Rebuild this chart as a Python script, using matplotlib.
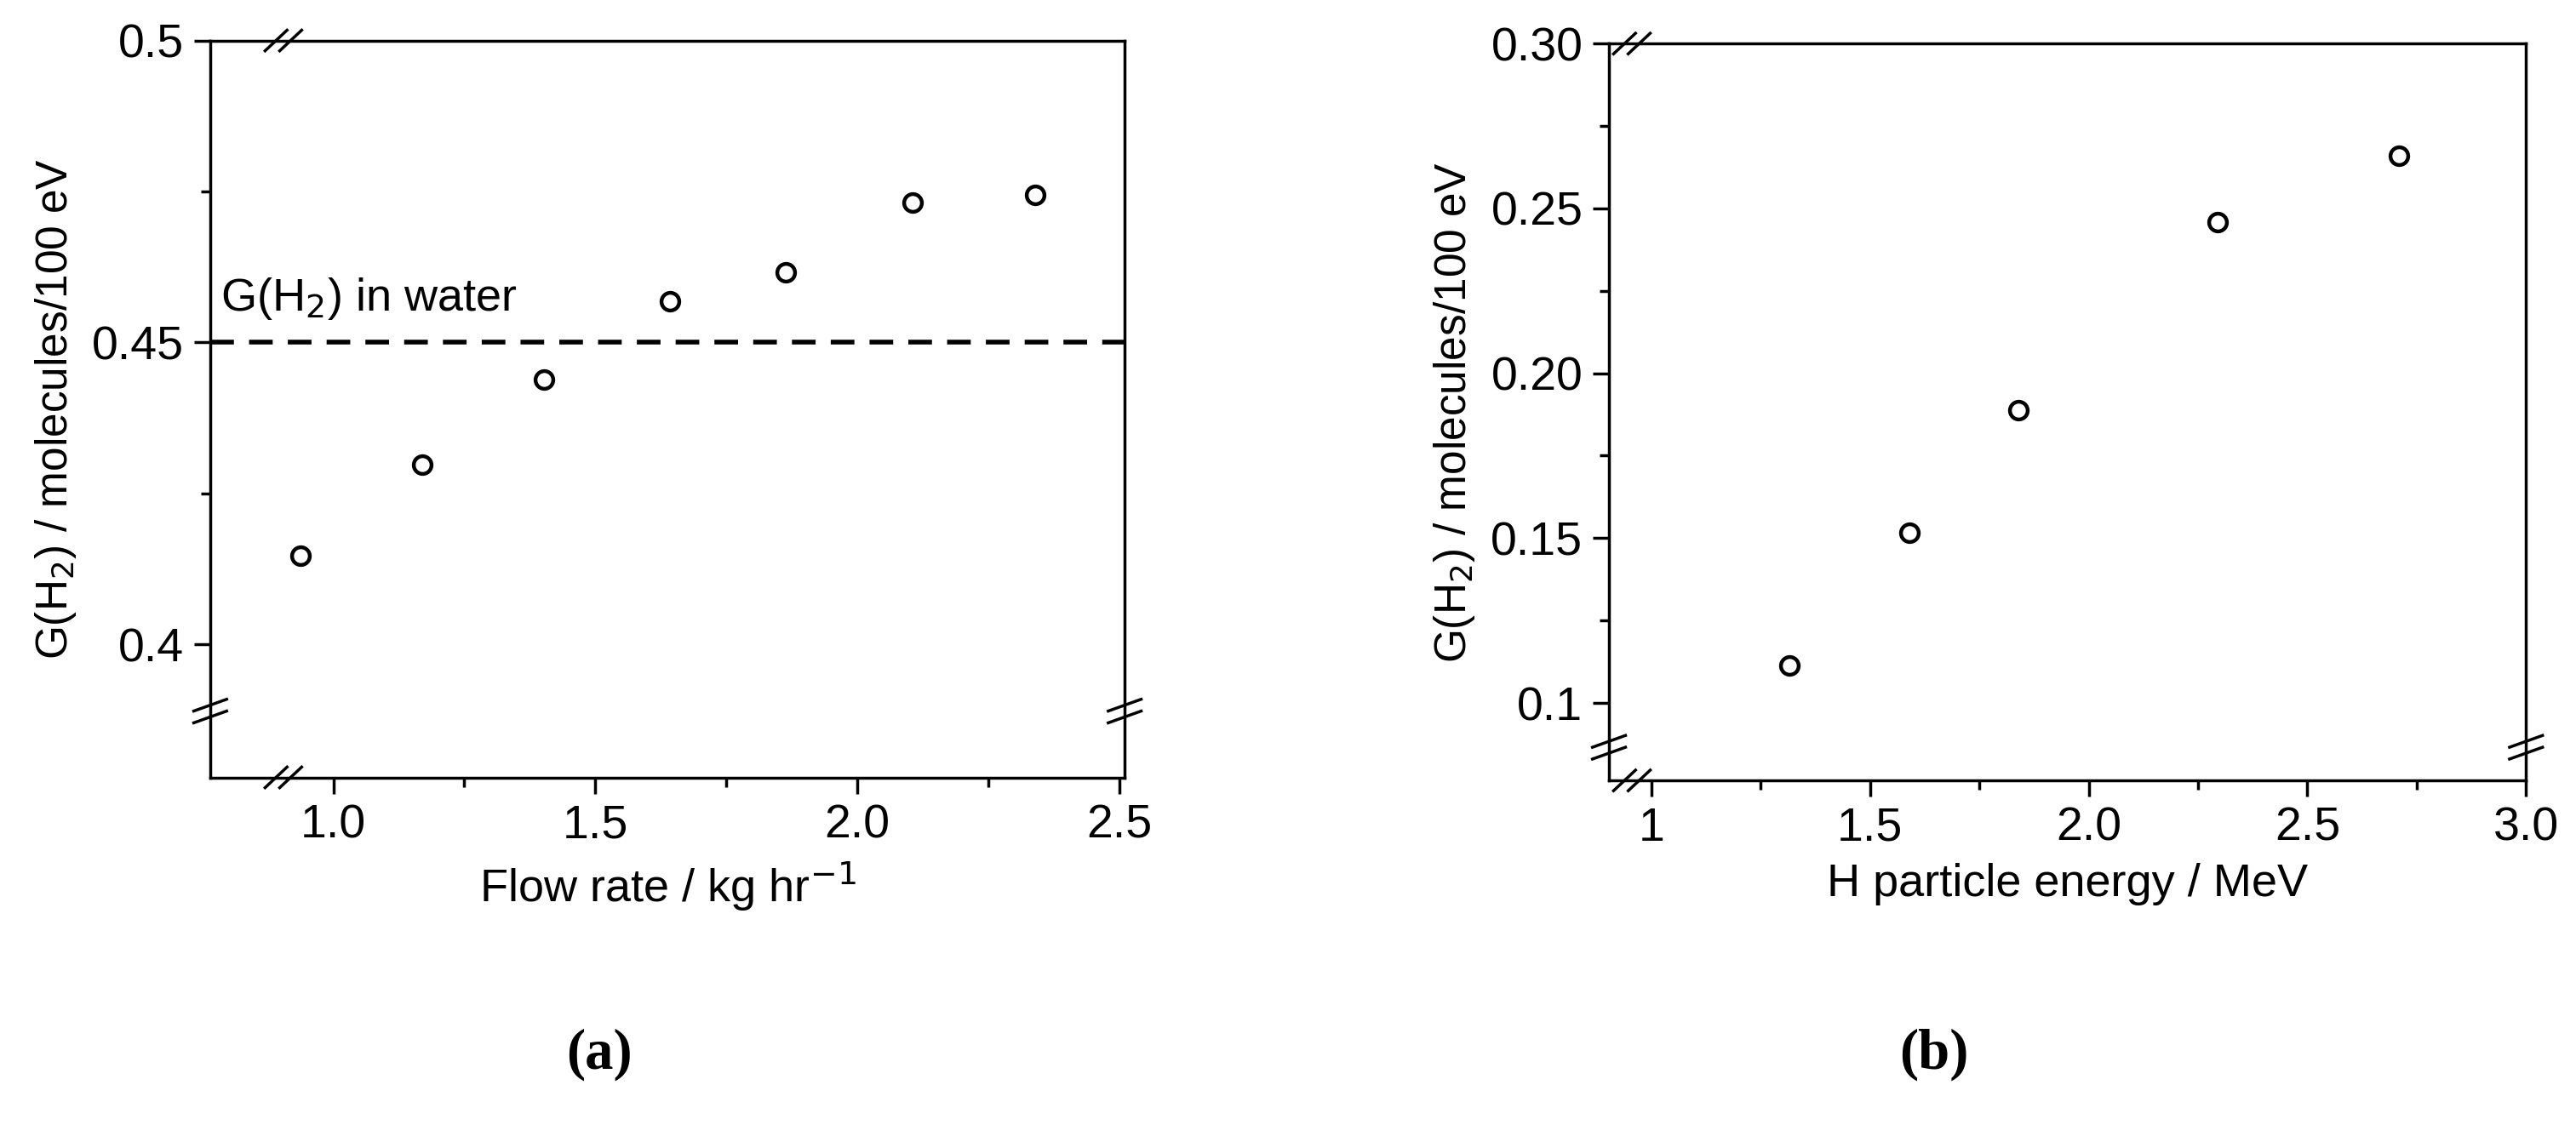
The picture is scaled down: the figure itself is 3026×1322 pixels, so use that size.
import matplotlib.pyplot as plt
from matplotlib.ticker import MultipleLocator

plt.rcParams['font.family'] = ['Liberation Sans', 'DejaVu Sans']

# panel (a): G(H2) vs flow rate
flow_rate = [0.938, 1.170, 1.402, 1.643, 1.864, 2.105, 2.339]
g_flow = [0.4147, 0.4298, 0.4438, 0.4568, 0.4616, 0.4732, 0.4744]
g_water = 0.45

# panel (b): G(H2) vs H particle energy
energy = [1.316, 1.591, 1.839, 2.295, 2.709]
g_energy = [0.1114, 0.1516, 0.1888, 0.2458, 0.2659]

fig = plt.figure(figsize=(30.26, 13.22), dpi=100)
axA = fig.add_axes([0.0816, 0.309, 0.355, 0.655])
axB = fig.add_axes([0.6246, 0.3063, 0.356, 0.655])


def style(ax):
    for s in ax.spines.values():
        s.set_linewidth(2.5)
    ax.tick_params(which='major', direction='out', length=14, width=2.5, labelsize=40, pad=8)
    ax.tick_params(which='minor', direction='out', length=8, width=2.5)
    ax.tick_params(top=False, right=False, which='both')


def breaks(ax, xb, yb):
    # "//" marks on the axes, in axes coordinates
    kw = dict(transform=ax.transAxes, color='black', lw=2.5, clip_on=False)
    d, g = 0.012, 0.008
    for off in (-g, g):
        for yy in (0, 1):
            ax.plot([xb + off - d, xb + off + d], [yy - 0.014, yy + 0.014], **kw)
        for xx in (0, 1):
            ax.plot([xx - 0.018, xx + 0.018], [yb + off - 0.008, yb + off + 0.008], **kw)


axA.plot(flow_rate, g_flow, 'o', ms=15, mfc='white', mec='black', mew=3.2)
axA.axhline(g_water, color='black', lw=4, dashes=(5, 3.2))
axA.text(0.785, 0.4535, 'G(H$_2$) in water', fontsize=39, va='bottom')
axA.set_xlim(0.765, 2.51)
axA.set_ylim(0.378, 0.5)
axA.set_xticks([1.0, 1.5, 2.0, 2.5])
axA.set_xticklabels(['1.0', '1.5', '2.0', '2.5'])
axA.set_yticks([0.4, 0.45, 0.5])
axA.set_yticklabels(['0.4', '0.45', '0.5'])
axA.xaxis.set_minor_locator(MultipleLocator(0.25))
axA.yaxis.set_minor_locator(MultipleLocator(0.025))
axA.set_xlabel('Flow rate / kg hr$^{-1}$', fontsize=39, labelpad=10)
axA.set_ylabel('G(H$_2$) / molecules/100 eV', fontsize=37, labelpad=12)
style(axA)
breaks(axA, 0.08, 0.09)

axB.plot(energy, g_energy, 'o', ms=15, mfc='white', mec='black', mew=3.2)
axB.set_xlim(0.903, 3.0)
axB.set_ylim(0.0765, 0.30)
axB.set_xticks([1.0, 1.5, 2.0, 2.5, 3.0])
axB.set_xticklabels(['1', '1.5', '2.0', '2.5', '3.0'])
axB.set_yticks([0.1, 0.15, 0.2, 0.25, 0.3])
axB.set_yticklabels(['0.1', '0.15', '0.20', '0.25', '0.30'])
axB.xaxis.set_minor_locator(MultipleLocator(0.25))
axB.yaxis.set_minor_locator(MultipleLocator(0.025))
axB.set_xlabel('H particle energy / MeV', fontsize=39, labelpad=10)
axB.set_ylabel('G(H$_2$) / molecules/100 eV', fontsize=37, labelpad=12)
style(axB)
breaks(axB, 0.025, 0.045)

fig.text(0.2325, 0.05, '(a)', fontsize=48, family='Liberation Serif', fontweight='bold', ha='center')
fig.text(0.7508, 0.05, '(b)', fontsize=48, family='Liberation Serif', fontweight='bold', ha='center')

fig.savefig('out.png', dpi=100, facecolor='white')
